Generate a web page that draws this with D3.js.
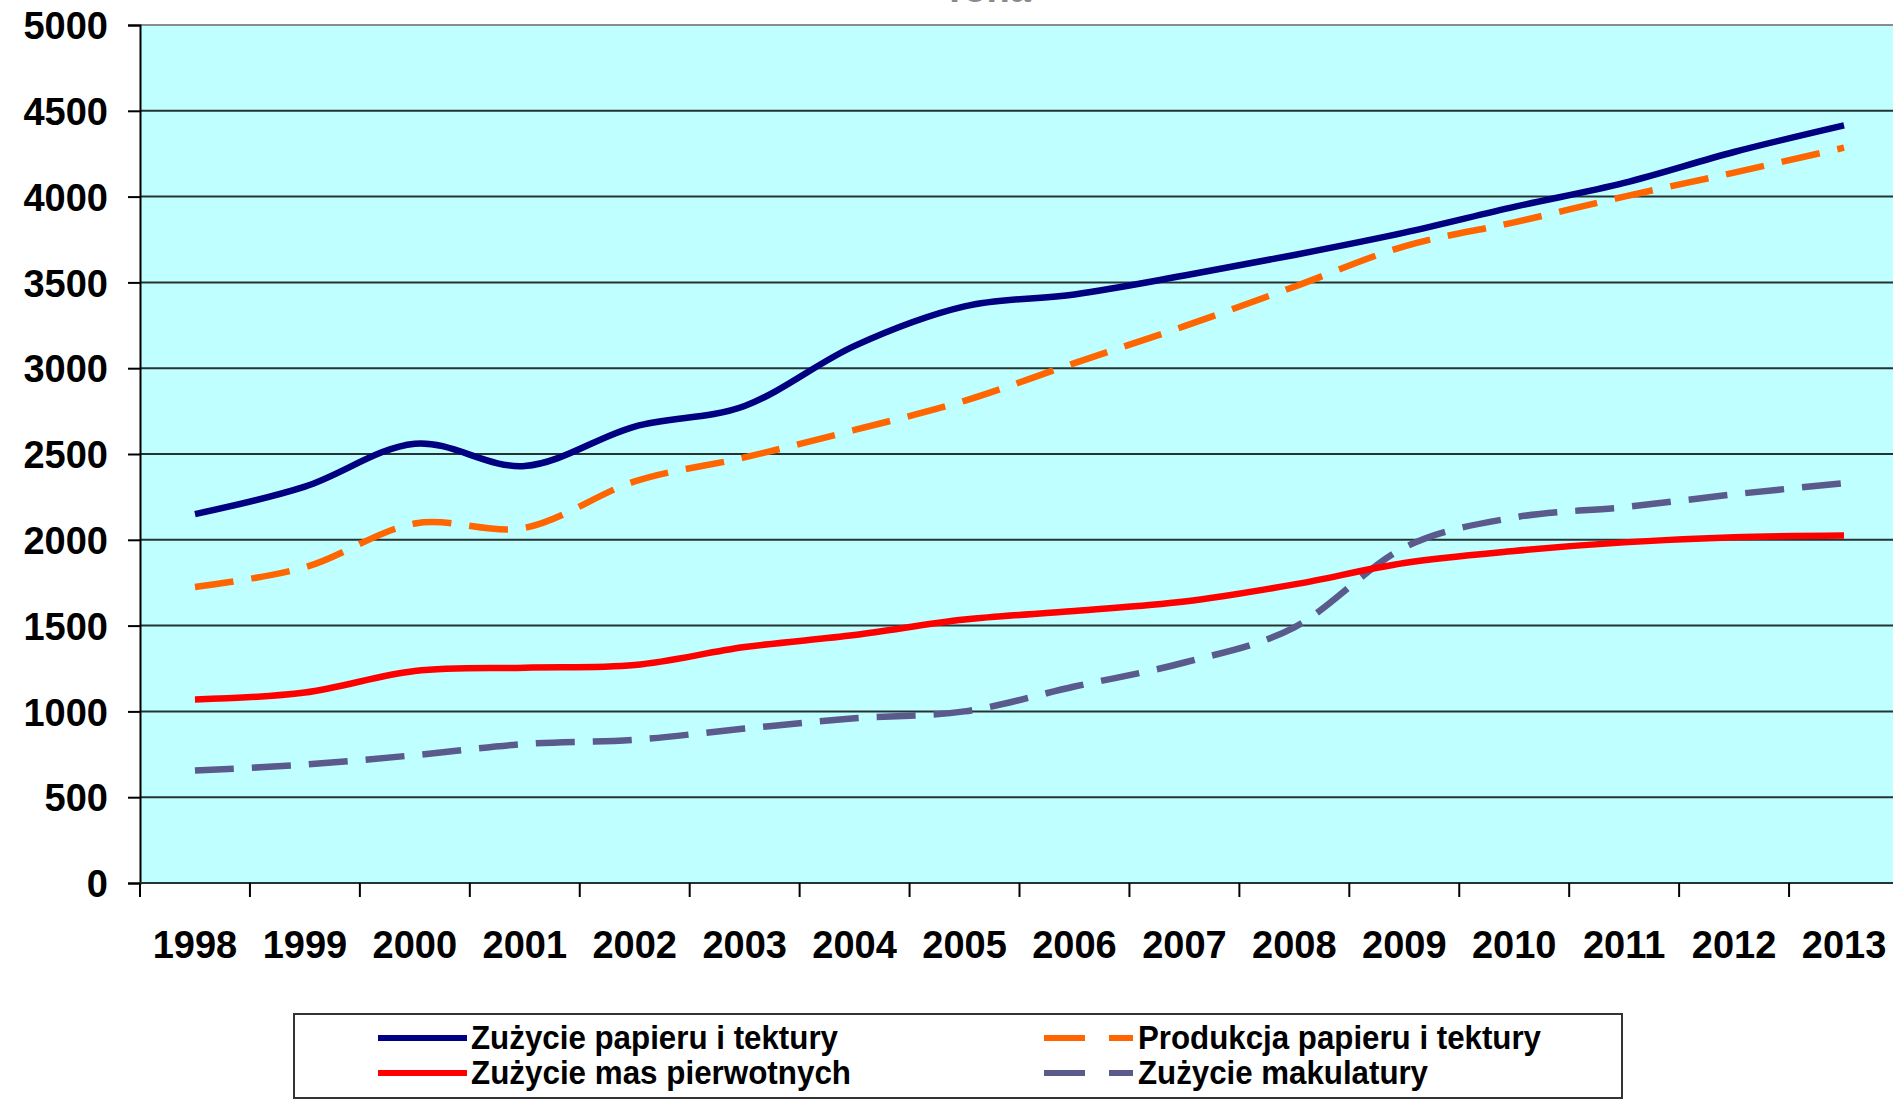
<!DOCTYPE html>
<html>
<head>
<meta charset="utf-8">
<script src="https://cdn.jsdelivr.net/npm/d3@7"></script>
<style>
  html, body { margin:0; padding:0; background:#fff; overflow:hidden; }
  text { font-family:"Liberation Sans", Arial, sans-serif; font-weight:bold; }
</style>
</head>
<body>
<svg id="chart"></svg>
<script>
const W = 1893, H = 1102;

// data (tys. ton)
const YEARS = ['1998','1999','2000','2001','2002','2003','2004','2005','2006','2007','2008','2009','2010','2011','2012','2013'];
const ZUZYCIE_PAPIERU = [2150,2310,2560,2430,2660,2780,3130,3360,3430,3540,3660,3790,3940,4080,4260,4415];
const PRODUKCJA_PAPIERU = [1725,1840,2095,2070,2340,2480,2640,2810,3030,3245,3475,3710,3850,4000,4140,4285];
const ZUZYCIE_MAS = [1070,1110,1235,1255,1270,1375,1445,1535,1585,1640,1740,1865,1935,1985,2015,2025];
const ZUZYCIE_MAKULATURY = [655,690,745,810,835,900,960,1000,1145,1285,1490,1955,2130,2190,2265,2330];
const Y_TICKS = [0,500,1000,1500,2000,2500,3000,3500,4000,4500,5000];

const SERIES = [
  {name:'Zużycie papieru i tektury',  vals:ZUZYCIE_PAPIERU,   color:'#000080', dash:null},
  {name:'Produkcja papieru i tektury',vals:PRODUKCJA_PAPIERU, color:'#ff6600', dash:'39,18'},
  {name:'Zużycie mas pierwotnych',    vals:ZUZYCIE_MAS,       color:'#ff0000', dash:null},
  {name:'Zużycie makulatury',         vals:ZUZYCIE_MAKULATURY,color:'#5a5a8c', dash:'39,18'},
];

const L = 140, R = 1899, T = 25, B = 883;

const svg = d3.select('#chart').attr('width',W).attr('height',H);
svg.append('rect').attr('width',W).attr('height',H).attr('fill','#fff');

const x = d3.scaleBand().domain(YEARS).range([L,R]);
const y = d3.scaleLinear().domain([0,5000]).range([B,T]);

// plot area
svg.append('rect').attr('x',L).attr('y',T).attr('width',R-L).attr('height',B-T).attr('fill','#c0ffff');

// cut-off title at the very top
svg.append('text').attr('x',987).attr('y',2).attr('text-anchor','middle')
  .attr('font-size',38).attr('fill','#8a8a8a').text('Tona');

// gridlines
svg.append('g').selectAll('line').data(Y_TICKS.filter(v => v>0)).join('line')
  .attr('x1',L).attr('x2',R).attr('y1',d => y(d)).attr('y2',d => y(d))
  .attr('stroke',d => d===5000 ? '#8c8c8c' : '#263333').attr('stroke-width',2);

// y axis
const yAx = svg.append('g').attr('transform',`translate(${L},0)`)
  .call(d3.axisLeft(y).tickValues(Y_TICKS).tickSize(12).tickPadding(20).tickFormat(d3.format('d')));
yAx.select('.domain').attr('stroke','#000').attr('stroke-width',2);
yAx.selectAll('.tick line').attr('stroke','#000').attr('stroke-width',2);
yAx.selectAll('.tick text').attr('font-size',38).attr('fill','#000')
  .attr('font-family','"Liberation Sans", Arial, sans-serif').attr('font-weight','bold').attr('dy','0.36em');

// x axis: ticks on band edges, labels in band centres
const xAx = svg.append('g').attr('transform',`translate(0,${B})`);
xAx.append('line').attr('x1',L).attr('x2',R).attr('stroke','#263333').attr('stroke-width',2);
xAx.selectAll('line.tk').data(YEARS).join('line').attr('class','tk')
  .attr('x1',d => x(d)).attr('x2',d => x(d)).attr('y1',0).attr('y2',14)
  .attr('stroke','#000').attr('stroke-width',2);
xAx.selectAll('text').data(YEARS).join('text')
  .attr('x',d => x(d)+x.bandwidth()/2).attr('y',75).attr('text-anchor','middle')
  .attr('font-size',38).attr('fill','#000').text(d => d);

// series lines
const line = d3.line()
  .x((d,i) => x(YEARS[i])+x.bandwidth()/2).y(d => y(d))
  .curve(d3.curveCardinal.tension(0));

const lineG = svg.append('g');
// dashed series under the solid ones, same order as in Excel
[SERIES[1], SERIES[3], SERIES[0], SERIES[2]].forEach(s => {
  lineG.append('path').attr('d',line(s.vals)).attr('fill','none')
    .attr('stroke',s.color).attr('stroke-width',6.5)
    .attr('stroke-dasharray',s.dash).attr('stroke-linejoin','round');
});

// legend
const lg = svg.append('g');
lg.append('rect').attr('x',294).attr('y',1014).attr('width',1328).attr('height',84)
  .attr('fill','#fff').attr('stroke','#333').attr('stroke-width',2);

const LEG = [
  {s:SERIES[0], lx:378, tx:471, ty:1049, w:367},
  {s:SERIES[2], lx:378, tx:471, ty:1084, w:380},
  {s:SERIES[1], lx:1044, tx:1138, ty:1049, w:403},
  {s:SERIES[3], lx:1044, tx:1138, ty:1084, w:290},
];
LEG.forEach(e => {
  lg.append('line').attr('x1',e.lx).attr('x2',e.lx+89).attr('y1',e.ty-11).attr('y2',e.ty-11)
    .attr('stroke',e.s.color).attr('stroke-width',6)
    .attr('stroke-dasharray',e.s.dash ? '41,24' : null);
  lg.append('text').attr('x',e.tx).attr('y',e.ty).attr('font-size',33).attr('fill','#000')
    .attr('textLength',e.w).attr('lengthAdjust','spacingAndGlyphs').text(e.s.name);
});
</script>
</body>
</html>
